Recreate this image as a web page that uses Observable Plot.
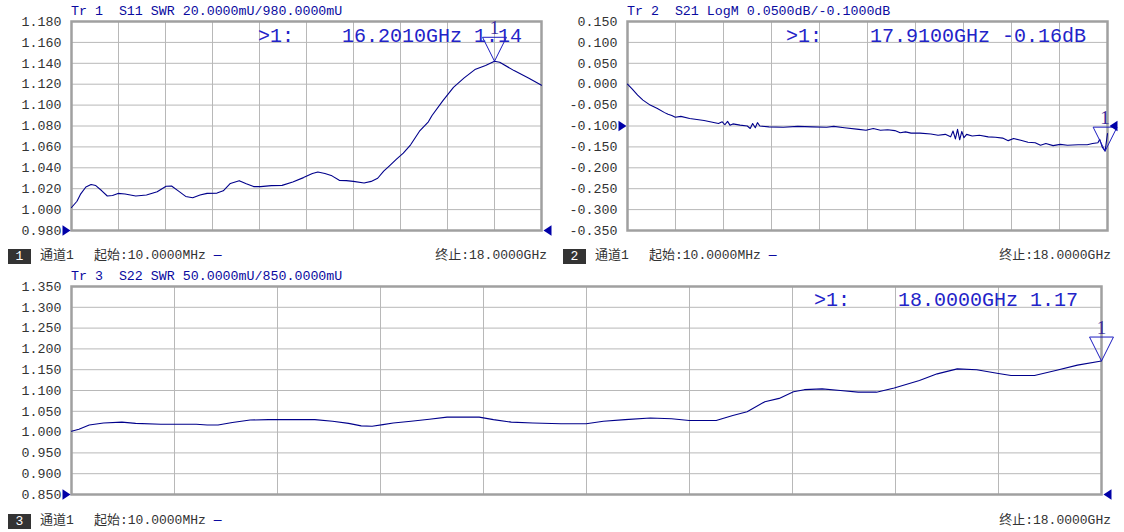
<!DOCTYPE html>
<html><head><meta charset="utf-8">
<script src="https://cdn.jsdelivr.net/npm/d3@7"></script>
<script src="https://cdn.jsdelivr.net/npm/@observablehq/plot@0.6"></script>
<style>
html,body{margin:0;padding:0;background:#fff;}
#wrap{position:relative;width:1124px;height:532px;overflow:hidden;background:#fff;font-family:"Liberation Mono","Noto Sans CJK SC",monospace;}
#wrap svg{position:absolute;max-width:none;overflow:visible;background:transparent;}
.t{position:absolute;white-space:pre;line-height:1;}
.title{font-size:13.3px;color:#0a0aa0;}
.read{font-size:20px;color:#2323c8;}
.foot{font-size:13px;color:#333;}
.dash{color:#0a0aa0;}
.box{position:absolute;background:#333;color:#fff;font-size:13px;width:23px;height:15px;line-height:15px;text-align:center;}
</style></head><body><div id="wrap"></div>
<script>
// ---------- data ----------
const freq1 = [0.01,0.22,0.35,0.56,0.76,0.94,1.17,1.38,1.58,1.79,2.06,2.47,2.88,3.29,3.63,3.84,4.11,4.38,4.65,4.93,5.2,5.58,5.82,6.09,6.43,6.7,6.98,7.25,7.66,8.07,8.48,8.89,9.23,9.44,9.71,9.98,10.26,10.53,10.8,11.21,11.48,11.73,11.96,12.17,12.44,12.71,12.99,13.33,13.67,13.81,14.22,14.63,15.04,15.45,15.86,16.2,16.4,16.95,17.5,18.0];
const swr1 = [1.002,1.008,1.0145,1.0216,1.024,1.023,1.018,1.013,1.0135,1.0155,1.015,1.013,1.0139,1.017,1.0223,1.0226,1.0177,1.0126,1.0113,1.0139,1.0155,1.0158,1.018,1.025,1.0277,1.0248,1.022,1.022,1.0229,1.0232,1.0265,1.0306,1.0345,1.036,1.0345,1.0323,1.028,1.0277,1.027,1.0255,1.027,1.030,1.0368,1.0416,1.048,1.054,1.062,1.075,1.084,1.090,1.104,1.117,1.126,1.134,1.138,1.142,1.141,1.133,1.126,1.119];

const freq2 = [0.01,0.19,0.39,0.59,0.86,1.13,1.4,1.53,1.67,1.8,2.01,2.34,2.88,3.42,3.56,3.66,3.76,3.85,3.96,4.23,4.5,4.61,4.7,4.8,4.88,4.97,5.31,5.85,6.39,6.93,7.47,7.74,8.14,8.68,8.95,9.22,9.49,9.76,10.03,10.23,10.43,10.64,10.97,11.38,11.65,11.92,12.12,12.21,12.3,12.38,12.46,12.54,12.62,12.72,12.93,13.2,13.53,13.8,14.07,14.28,14.48,14.75,15.02,15.29,15.49,15.69,15.96,16.23,16.5,16.9,17.24,17.44,17.64,17.71,17.8,17.91,18.0];
const s21 = [0.000,-0.012,-0.026,-0.038,-0.050,-0.058,-0.068,-0.072,-0.075,-0.079,-0.077,-0.082,-0.087,-0.094,-0.090,-0.097,-0.089,-0.098,-0.095,-0.098,-0.100,-0.106,-0.094,-0.104,-0.092,-0.100,-0.102,-0.103,-0.101,-0.102,-0.103,-0.101,-0.104,-0.108,-0.110,-0.106,-0.110,-0.109,-0.111,-0.116,-0.114,-0.117,-0.117,-0.119,-0.122,-0.120,-0.126,-0.112,-0.131,-0.108,-0.133,-0.113,-0.128,-0.120,-0.124,-0.122,-0.126,-0.127,-0.129,-0.135,-0.130,-0.134,-0.139,-0.140,-0.146,-0.142,-0.147,-0.144,-0.146,-0.145,-0.145,-0.142,-0.140,-0.132,-0.150,-0.160,-0.118];

const freq3 = [0.01,0.14,0.32,0.57,0.89,1.13,1.57,2.19,2.38,2.57,2.82,3.13,3.45,4.26,4.57,4.85,5.07,5.26,5.45,5.63,5.94,6.26,6.57,7.13,7.38,7.69,8.07,8.56,9.0,9.3,9.68,10.12,10.49,10.8,11.27,11.56,11.81,12.12,12.37,12.62,12.81,13.12,13.44,13.75,14.07,14.38,14.82,15.13,15.48,15.82,16.2,16.42,16.83,17.2,17.58,18.0];
const swr3 = [1.002,1.007,1.017,1.022,1.024,1.021,1.019,1.019,1.017,1.017,1.023,1.029,1.030,1.030,1.026,1.021,1.015,1.014,1.018,1.022,1.026,1.031,1.036,1.036,1.030,1.024,1.022,1.020,1.020,1.026,1.030,1.034,1.032,1.028,1.028,1.040,1.049,1.073,1.081,1.097,1.102,1.104,1.100,1.096,1.096,1.106,1.124,1.140,1.152,1.150,1.141,1.136,1.136,1.148,1.161,1.171];

const yTicks1 = [0.98,1.00,1.02,1.04,1.06,1.08,1.10,1.12,1.14,1.16,1.18];
const yTicks2 = [-0.35,-0.30,-0.25,-0.20,-0.15,-0.10,-0.05,0.00,0.05,0.10,0.15];
const yTicks3 = [0.85,0.90,0.95,1.00,1.05,1.10,1.15,1.20,1.25,1.30,1.35];

const startGHz = 0.01, stopGHz = 18.0, divisions = 10;
const marker1 = [{f:16.201, v:1.142}];
const marker2 = [{f:17.91, v:-0.160}];
const marker3 = [{f:18.0, v:1.171}];
const ref1 = 0.98, ref2 = -0.10, ref3 = 0.85;

const titles = ["Tr 1  S11 SWR 20.0000mU/980.0000mU","Tr 2  S21 LogM 0.0500dB/-0.1000dB","Tr 3  S22 SWR 50.0000mU/850.0000mU"];
const readouts = [">1:    16.2010GHz 1.14", ">1:    17.9100GHz -0.16dB", ">1:    18.0000GHz 1.17"];
const chanLabel = "通道1", startLabel = "起始:10.0000MHz", stopLabel = "终止:18.0000GHz";

// ---------- drawing ----------
const xGrid = d3.range(1, divisions).map(k => startGHz + k*(stopGHz-startGHz)/divisions);
const markerSymbol = {draw(ctx, size){ const s = Math.sqrt(size); ctx.moveTo(0,0); ctx.lineTo(-s/2,-s); ctx.lineTo(s/2,-s); ctx.closePath(); }};
const arrowRight = {draw(ctx, size){ const s = Math.sqrt(size); ctx.moveTo(0,0); ctx.lineTo(-s*0.75,-s/2); ctx.lineTo(-s*0.75,s/2); ctx.closePath(); }};
const arrowLeft = {draw(ctx, size){ const s = Math.sqrt(size); ctx.moveTo(0,0); ctx.lineTo(s*0.75,-s/2); ctx.lineTo(s*0.75,s/2); ctx.closePath(); }};
const navy = "#00008b";
const wrap = document.getElementById("wrap");

function panel(o){
  const data = o.freq.map((f,i)=>({f, v:o.vals[i]}));
  const refs = [{f:startGHz, v:o.ref}];
  const refsR = [{f:stopGHz, v:o.ref}];
  const p = Plot.plot({
    width:o.width, height:o.height,
    marginLeft:o.ml, marginRight:o.mr, marginTop:o.mt, marginBottom:o.mb,
    style:{fontFamily:'"Liberation Mono", monospace', fontSize:"13.3px", color:"#333", background:"transparent", overflow:"visible"},
    x:{domain:[startGHz, stopGHz], axis:null, label:null},
    y:{domain:[o.yTicks[0], o.yTicks[o.yTicks.length-1]], axis:null, label:null},
    marks:[
      Plot.gridX(xGrid, {stroke:"#b8b8b8", strokeOpacity:1}),
      Plot.gridY(o.yTicks, {stroke:"#b8b8b8", strokeOpacity:1}),
      Plot.frame({stroke:"#a0a0a0", strokeWidth:2.5}),
      Plot.axisY(o.yTicks, {tickSize:0, tickPadding:10, label:null, tickFormat:d=>d.toFixed(3), fill:"#333"}),
      Plot.line(data, {x:"f", y:"v", stroke:navy, strokeWidth:1.1}),
      Plot.dot(o.marker, {x:"f", y:"v", symbol:markerSymbol, r:13.5, stroke:"#1c1cc0", fill:"none", strokeWidth:1}),
      Plot.text(o.marker, {x:"f", y:"v", text:()=>"1", dy:-33, fontSize:19, fill:"#3a2a9a", fontFamily:'"Liberation Serif", serif'}),
      Plot.dot(refs, {x:"f", y:"v", symbol:arrowRight, r:6, fill:"#0000a8", stroke:"none", dx:-1}),
      Plot.dot(refsR, {x:"f", y:"v", symbol:arrowLeft, r:6, fill:"#0000a8", stroke:"none", dx:2})
    ]
  });
  p.style.left = o.left+"px"; p.style.top = o.top+"px";
  wrap.appendChild(p);
}

panel({freq:freq1, vals:swr1, yTicks:yTicks1, ref:ref1, marker:marker1, width:560, height:250, ml:71, mr:19, mt:21, mb:20, left:0, top:0});
panel({freq:freq2, vals:s21, yTicks:yTicks2, ref:ref2, marker:marker2, width:564, height:250, ml:67, mr:17, mt:21, mb:20, left:560, top:0});
panel({freq:freq3, vals:swr3, yTicks:yTicks3, ref:ref3, marker:marker3, width:1124, height:250, ml:71, mr:23, mt:24, mb:18, left:0, top:262});

function txt(cls, s, left, top, right){
  const d = document.createElement("div");
  d.className = "t "+cls; d.textContent = s;
  d.style.top = top+"px";
  if (right !== undefined) d.style.right = right+"px"; else d.style.left = left+"px";
  wrap.appendChild(d); return d;
}
// titles
txt("title", titles[0], 71, 5);
txt("title", titles[1], 627, 5);
txt("title", titles[2], 71, 270);
// marker readouts
txt("read", readouts[0], 258, 27);
txt("read", readouts[1], 786, 27);
txt("read", readouts[2], 814, 291);
// footers
function footer(n, x0, xStop, y){
  const b = document.createElement("div");
  b.className = "box"; b.textContent = n;
  b.style.left = x0+"px"; b.style.top = (y-7.5)+"px";
  wrap.appendChild(b);
  txt("foot", chanLabel, x0+32, y-7);
  const s = txt("foot", startLabel, x0+86, y-7);
  const dsh = document.createElement("span"); dsh.className = "dash"; dsh.textContent = " —";
  s.appendChild(dsh);
  txt("foot", stopLabel, 0, y-7, 1124-xStop);
}
footer("1", 8, 547, 256);
footer("2", 563, 1111, 256);
footer("3", 8, 1111, 521);
</script></body></html>
